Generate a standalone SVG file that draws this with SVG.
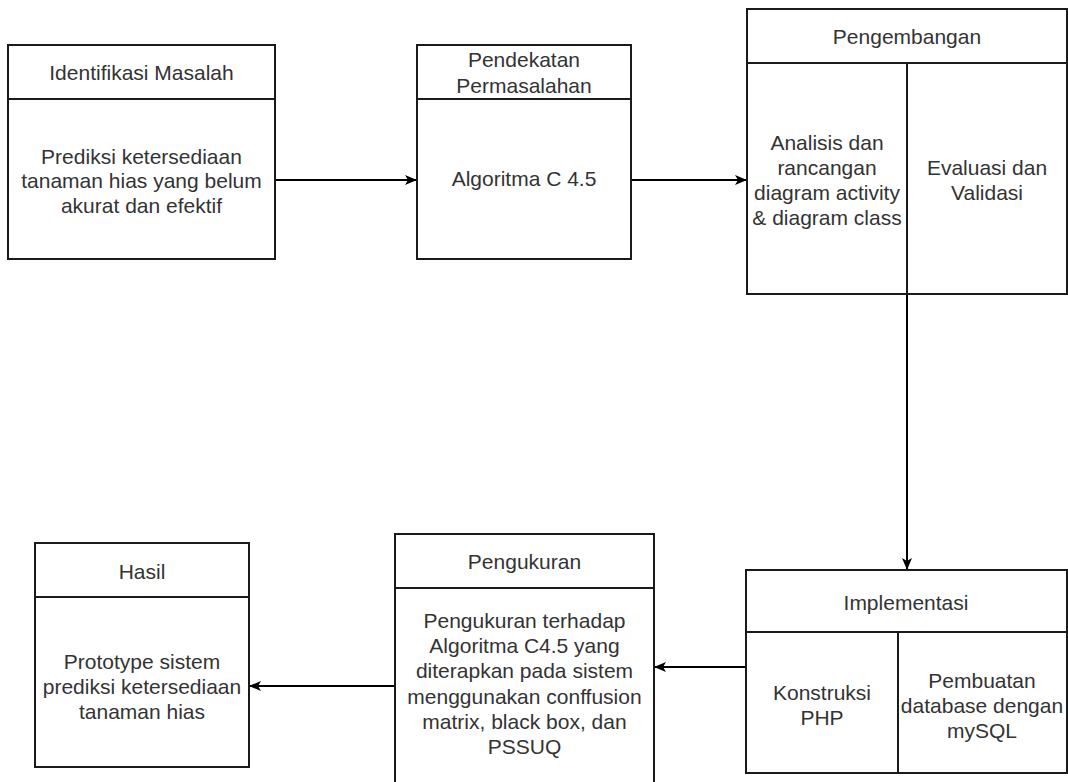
<svg xmlns="http://www.w3.org/2000/svg" width="1068" height="782" viewBox="0 0 1068 782">
  <style>
    .box { fill: #ffffff; stroke: #1a1a1a; stroke-width: 2; }
    .sep { fill: none; stroke: #1a1a1a; stroke-width: 2; }
    .lbl { font-family: "Liberation Sans", Arial, sans-serif; font-size: 21px; fill: #333333; text-anchor: middle; dominant-baseline: central; }
    .edge { fill: none; stroke: #000000; stroke-width: 2; marker-end: url(#arrow); }
  </style>
  <defs>
    <marker id="arrow" viewBox="0 0 12 10" refX="11" refY="5" markerWidth="12" markerHeight="10" markerUnits="userSpaceOnUse" orient="auto">
      <path d="M0,0 L12,5 L0,10 L3,5 Z" fill="#000000"/>
    </marker>
  </defs>
  <rect width="1068" height="782" fill="#ffffff"/>

  <!-- connectors -->
  <g id="connectors">
    <path class="edge" d="M275,180 L416,180"/>
    <path class="edge" d="M631,180 L746,180"/>
    <path class="edge" d="M907,294 L907,569"/>
    <path class="edge" d="M746,667 L655,667"/>
    <path class="edge" d="M395,686 L250,686"/>
  </g>

  <g id="identifikasi">
    <rect class="box" x="8" y="45" width="267" height="214"/>
    <line class="sep" x1="8" y1="99" x2="275" y2="99"/>
    <text class="lbl" x="141.5" y="72">Identifikasi Masalah</text>
    <text class="lbl" x="141.5" y="156">Prediksi ketersediaan</text>
    <text class="lbl" x="141.5" y="180.5">tanaman hias yang belum</text>
    <text class="lbl" x="141.5" y="205">akurat dan efektif</text>
  </g>

  <g id="pendekatan">
    <rect class="box" x="417" y="45" width="214" height="214"/>
    <line class="sep" x1="417" y1="99" x2="631" y2="99"/>
    <text class="lbl" x="524" y="59">Pendekatan</text>
    <text class="lbl" x="524" y="85">Permasalahan</text>
    <text class="lbl" x="524" y="178">Algoritma C 4.5</text>
  </g>

  <g id="pengembangan">
    <rect class="box" x="747" y="9" width="320" height="285"/>
    <line class="sep" x1="747" y1="63" x2="1067" y2="63"/>
    <line class="sep" x1="907" y1="63" x2="907" y2="294"/>
    <text class="lbl" x="907" y="36">Pengembangan</text>
    <text class="lbl" x="827" y="142">Analisis dan</text>
    <text class="lbl" x="827" y="167">rancangan</text>
    <text class="lbl" x="827" y="192">diagram activity</text>
    <text class="lbl" x="827" y="217">&amp; diagram class</text>
    <text class="lbl" x="987" y="167">Evaluasi dan</text>
    <text class="lbl" x="987" y="192">Validasi</text>
  </g>

  <g id="implementasi">
    <rect class="box" x="746" y="570" width="321" height="203"/>
    <line class="sep" x1="746" y1="632" x2="1067" y2="632"/>
    <line class="sep" x1="898" y1="632" x2="898" y2="773"/>
    <text class="lbl" x="906" y="602">Implementasi</text>
    <text class="lbl" x="822" y="692">Konstruksi</text>
    <text class="lbl" x="822" y="717">PHP</text>
    <text class="lbl" x="982" y="680">Pembuatan</text>
    <text class="lbl" x="982" y="705">database dengan</text>
    <text class="lbl" x="982" y="730">mySQL</text>
  </g>

  <g id="pengukuran">
    <rect class="box" x="395" y="534" width="259" height="260"/>
    <line class="sep" x1="395" y1="588" x2="654" y2="588"/>
    <text class="lbl" x="524.5" y="561">Pengukuran</text>
    <text class="lbl" x="524.5" y="620">Pengukuran terhadap</text>
    <text class="lbl" x="524.5" y="645">Algoritma C4.5 yang</text>
    <text class="lbl" x="524.5" y="670">diterapkan pada sistem</text>
    <text class="lbl" x="524.5" y="696">menggunakan conffusion</text>
    <text class="lbl" x="524.5" y="721">matrix, black box, dan</text>
    <text class="lbl" x="524.5" y="746">PSSUQ</text>
  </g>

  <g id="hasil">
    <rect class="box" x="35" y="543" width="214" height="224"/>
    <line class="sep" x1="35" y1="597" x2="249" y2="597"/>
    <text class="lbl" x="142" y="571">Hasil</text>
    <text class="lbl" x="142" y="661">Prototype sistem</text>
    <text class="lbl" x="142" y="686">prediksi ketersediaan</text>
    <text class="lbl" x="142" y="711">tanaman hias</text>
  </g>
</svg>
